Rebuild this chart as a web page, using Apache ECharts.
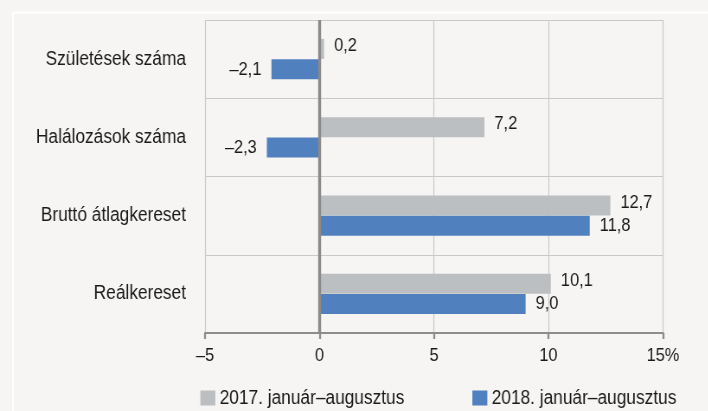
<!DOCTYPE html>
<html>
<head>
<meta charset="utf-8">
<script src="https://cdn.jsdelivr.net/npm/echarts@6/dist/echarts.min.js"></script>
<style>
html,body{margin:0;padding:0;background:#f6f5f3;overflow:hidden;}
#wrap{width:708px;height:411px;overflow:hidden;position:relative;}
#c{width:820px;height:411px;transform:scaleX(0.865);transform-origin:0 0;}
</style>
</head>
<body>
<div id="wrap"><div id="c"></div></div>
<script>
const categories = ['Születések száma', 'Halálozások száma', 'Bruttó átlagkereset', 'Reálkereset'];
const series2017 = [0.2, 7.2, 12.7, 10.1];
const series2018 = [-2.1, -2.3, 11.8, 9.0];
const seriesNames = ['2017. január–augusztus', '2018. január–augusztus'];
const xTicks = { min: -5, max: 15, interval: 5 };

const fmt = v => (v < 0 ? '–' : '') + Math.abs(v).toFixed(1).replace('.', ',');
const toData = arr => arr.map(v => ({ value: v, label: { position: v < 0 ? 'left' : 'right' } }));

// drawn on a wider canvas and squeezed horizontally to mimic the narrow typeface of the original
const S = 0.865;
const K = 1 / S;
const W = 708 * K;
const chart = echarts.init(document.getElementById('c'), null, { width: W, height: 411 });
const font = '"Liberation Sans", Arial, sans-serif';
const fs = 20, fsNum = 19;
const txt = '#1a1a1a';
chart.setOption({
  backgroundColor: '#f6f5f3',
  animation: false,
  textStyle: { fontFamily: font },
  graphic: [{
    type: 'rect', left: 11 * K, top: 10, silent: true, z: -1,
    shape: { x: 0, y: 0, width: 900, height: 420 },
    style: { fill: 'none', stroke: '#ffffff', lineWidth: 2 }
  }],
  grid: { left: 205 * K, right: 45 * K, top: 20, bottom: 78, containLabel: false },
  legend: [{
    top: 383, left: 196 * K,
    itemWidth: 15 * K, itemHeight: 15, itemGap: 9 * K,
    icon: 'rect',
    textStyle: { fontSize: fs, color: txt, fontFamily: font },
    data: [seriesNames[0]]
  }, {
    top: 383, left: 468 * K,
    itemWidth: 15 * K, itemHeight: 15, itemGap: 9 * K,
    icon: 'rect',
    textStyle: { fontSize: fs, color: txt, fontFamily: font },
    data: [seriesNames[1]]
  }],
  xAxis: {
    type: 'value', min: xTicks.min, max: xTicks.max, interval: xTicks.interval,
    axisLine: { show: true, onZero: false, lineStyle: { color: '#8c8c8c', width: 2 } },
    axisTick: { show: true, length: 6, lineStyle: { color: '#8c8c8c', width: 2.3 } },
    splitLine: { show: true, lineStyle: { color: '#c9c9c9', width: 1.15 } },
    axisLabel: {
      fontSize: fsNum, color: txt, margin: 13, fontFamily: font,
      formatter: v => v === xTicks.max ? v + '%' : (v < 0 ? '–' + Math.abs(v) : String(v))
    }
  },
  yAxis: {
    type: 'category', data: categories, inverse: true,
    axisLine: { show: false, onZero: false },
    axisTick: { show: false },
    splitLine: { show: true, lineStyle: { color: '#c9c9c9', width: 1 } },
    axisLabel: { fontSize: fs, color: txt, margin: 19 * K, fontFamily: font }
  },
  series: [
    {
      name: seriesNames[0], type: 'bar', data: toData(series2017),
      itemStyle: { color: '#bcbfc1' },
      barWidth: 20, barGap: '2%',
      label: { show: true, fontSize: fsNum, color: txt, distance: 10 * K, offset: [0, -3], formatter: p => fmt(p.value), fontFamily: font },
      markLine: {
        silent: true, symbol: 'none', animation: false,
        label: { show: false },
        lineStyle: { color: '#8a8a8a', width: 3.4, type: 'solid' },
        data: [{ xAxis: 0 }]
      }
    },
    {
      name: seriesNames[1], type: 'bar', data: toData(series2018),
      itemStyle: { color: '#5180be' },
      barWidth: 20, barGap: '2%',
      label: { show: true, fontSize: fsNum, color: txt, distance: 10 * K, formatter: p => fmt(p.value), fontFamily: font }
    }
  ]
});
</script>
</body>
</html>
